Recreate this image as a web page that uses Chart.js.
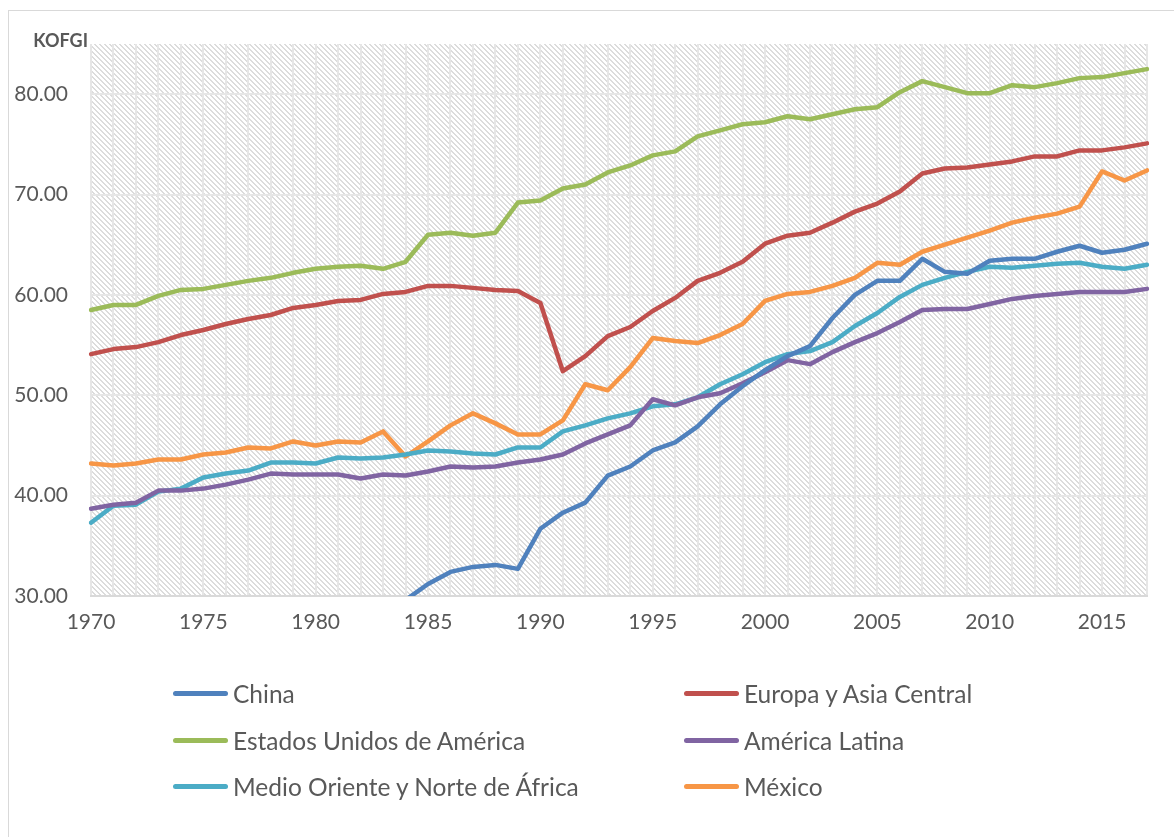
<!DOCTYPE html>
<html>
<head>
<meta charset="utf-8">
<script src="https://cdn.jsdelivr.net/npm/chart.js@4.4.1/dist/chart.umd.min.js"></script>
<style>
  html, body { margin: 0; padding: 0; background: #ffffff; overflow: hidden; }
  #frame { position: absolute; left: 8px; top: 10px; width: 1200px; height: 900px; border: 1.5px solid #d9d9d9; box-sizing: border-box; }
  #wrap { position: absolute; left: 0; top: 0; width: 1174px; height: 837px; }
  #legend { position: absolute; left: 0; top: 0; width: 1174px; height: 837px; pointer-events: none; }
  .li { position: absolute; display: flex; align-items: center; font-family: Lato, "Open Sans", sans-serif; font-size: 24.5px; color: #595959; white-space: nowrap; }
  .sw { width: 55px; height: 5px; border-radius: 3px; margin-right: 5px; }
</style>
</head>
<body>
<div id="frame"></div>
<div id="wrap"><canvas id="c"></canvas></div>
<div id="legend"></div>
<script>
const years = [];
for (let y = 1970; y <= 2017; y++) years.push(String(y));

const seriesNames = ["China", "Europa y Asia Central", "Estados Unidos de América", "América Latina", "Medio Oriente y Norte de África", "México"];
const seriesColors = ["#4F81BD", "#C0504D", "#9BBB59", "#8064A2", "#4BACC6", "#F79646"];

const china = [null, null, null, null, null, null, null, null, null, null, null, null, null, null,
  29.6, 31.2, 32.4, 32.9, 33.1, 32.7, 36.7, 38.3, 39.3, 42.0,
  42.9, 44.5, 45.3, 46.9, 49.1, 50.9, 52.5, 53.9, 54.9, 57.7, 60.0, 61.4,
  61.4, 63.6, 62.3, 62.1, 63.4, 63.6, 63.6, 64.3, 64.9, 64.2, 64.5, 65.1];
const europa = [54.1, 54.6, 54.8, 55.3, 56.0, 56.5, 57.1, 57.6, 58.0, 58.7, 59.0, 59.4,
  59.5, 60.1, 60.3, 60.9, 60.9, 60.7, 60.5, 60.4, 59.2, 52.4, 53.9, 55.9,
  56.8, 58.4, 59.7, 61.4, 62.2, 63.3, 65.1, 65.9, 66.2, 67.2, 68.3, 69.1,
  70.3, 72.1, 72.6, 72.7, 73.0, 73.3, 73.8, 73.8, 74.4, 74.4, 74.7, 75.1];
const usa = [58.5, 59.0, 59.0, 59.9, 60.5, 60.6, 61.0, 61.4, 61.7, 62.2, 62.6, 62.8,
  62.9, 62.6, 63.3, 66.0, 66.2, 65.9, 66.2, 69.2, 69.4, 70.6, 71.0, 72.2,
  72.9, 73.9, 74.3, 75.8, 76.4, 77.0, 77.2, 77.8, 77.5, 78.0, 78.5, 78.7,
  80.2, 81.3, 80.7, 80.1, 80.1, 80.9, 80.7, 81.1, 81.6, 81.7, 82.1, 82.5];
const latina = [38.7, 39.1, 39.3, 40.5, 40.5, 40.7, 41.1, 41.6, 42.2, 42.1, 42.1, 42.1,
  41.7, 42.1, 42.0, 42.4, 42.9, 42.8, 42.9, 43.3, 43.6, 44.1, 45.2, 46.1,
  47.0, 49.6, 49.0, 49.8, 50.2, 51.2, 52.3, 53.5, 53.1, 54.3, 55.3, 56.2,
  57.3, 58.5, 58.6, 58.6, 59.1, 59.6, 59.9, 60.1, 60.3, 60.3, 60.3, 60.6];
const medio = [37.3, 39.0, 39.1, 40.4, 40.7, 41.8, 42.2, 42.5, 43.3, 43.3, 43.2, 43.8,
  43.7, 43.8, 44.1, 44.5, 44.4, 44.2, 44.1, 44.8, 44.8, 46.4, 47.0, 47.7,
  48.2, 48.9, 49.1, 49.8, 51.1, 52.1, 53.3, 54.1, 54.4, 55.3, 56.9, 58.2,
  59.8, 61.0, 61.7, 62.3, 62.8, 62.7, 62.9, 63.1, 63.2, 62.8, 62.6, 63.0];
const mexico = [43.2, 43.0, 43.2, 43.6, 43.6, 44.1, 44.3, 44.8, 44.7, 45.4, 45.0, 45.4,
  45.3, 46.4, 43.9, 45.4, 47.0, 48.2, 47.2, 46.1, 46.1, 47.5, 51.1, 50.5,
  52.8, 55.7, 55.4, 55.2, 56.0, 57.1, 59.4, 60.1, 60.3, 60.9, 61.7, 63.2,
  63.0, 64.3, 65.0, 65.7, 66.4, 67.2, 67.7, 68.1, 68.8, 72.3, 71.4, 72.4];

const seriesValues = [china, europa, usa, latina, medio, mexico];
const yTicks = [30, 40, 50, 60, 70, 80];
const yMin = 30, yMax = 85;
const axisTitle = "KOFGI";

// hatch pattern for plot background
function makePattern(ctx) {
  const n = 5;
  const p = document.createElement('canvas');
  p.width = n; p.height = n;
  const pc = p.getContext('2d');
  pc.fillStyle = '#ffffff';
  pc.fillRect(0, 0, n, n);
  pc.fillStyle = '#dcdcdc';
  for (let i = 0; i < n; i++) { pc.fillRect(i, i, 1, 1); pc.fillRect((i + 1) % n, i, 1, 1); }
  return ctx.createPattern(p, 'repeat');
}

const bgPlugin = {
  id: 'hatchBg',
  beforeDraw(chart) {
    const { ctx, chartArea: a } = chart;
    ctx.save();
    ctx.fillStyle = makePattern(ctx);
    ctx.fillRect(a.left, a.top, a.right - a.left, a.bottom - a.top);
    ctx.restore();
  },
  afterDraw(chart) {
    const { ctx, chartArea: a } = chart;
    ctx.save();
    ctx.font = 'bold 18px Lato, "Open Sans", sans-serif';
    ctx.fillStyle = '#595959';
    ctx.textAlign = 'right';
    ctx.textBaseline = 'alphabetic';
    ctx.fillText(axisTitle, a.left - 3, a.top + 3);
    ctx.restore();
  }
};

const datasets = seriesNames.map((n, i) => ({
  label: n,
  data: seriesValues[i],
  borderColor: seriesColors[i],
  backgroundColor: seriesColors[i],
  borderWidth: 4.5,
  pointRadius: 0,
  tension: 0,
  fill: false,
  spanGaps: false,
  borderJoinStyle: 'round',
  borderCapStyle: 'round'
}));

const chart = new Chart(document.getElementById('c'), {
  type: 'line',
  data: { labels: years, datasets },
  options: {
    responsive: true,
    maintainAspectRatio: false,
    animation: false,
    layout: { padding: { left: 0, top: 44, right: 27, bottom: 201 } },
    plugins: { legend: { display: false }, tooltip: { enabled: false } },
    scales: {
      x: {
        offset: false,
        afterFit(s) { s.height = 40; },
        grid: { color: '#e6e6e6', lineWidth: 2, drawTicks: false },
        border: { color: '#d9d9d9', width: 2 },
        ticks: {
          autoSkip: false, maxRotation: 0, padding: 14,
          color: '#595959',
          font: { family: 'Lato, "Open Sans", sans-serif', size: 21 },
          callback(v, i) { const y = years[i]; return (Number(y) % 5 === 0) ? y : ''; }
        }
      },
      y: {
        min: yMin, max: yMax,
        afterFit(s) { s.width = 91; },
        afterBuildTicks(s) { s.ticks = yTicks.map(v => ({ value: v })); },
        grid: { color: '#e6e6e6', lineWidth: 2, drawTicks: false },
        border: { display: false },
        ticks: {
          padding: 23,
          color: '#595959',
          font: { family: 'Lato, "Open Sans", sans-serif', size: 21 },
          callback(v) { return Number(v).toFixed(2); }
        }
      }
    }
  },
  plugins: [bgPlugin]
});

// HTML legend in two columns
const legendPos = [[173, 693], [684, 693], [173, 740], [684, 740], [173, 786], [684, 786]];
const leg = document.getElementById('legend');
chart.data.datasets.forEach((ds, i) => {
  const d = document.createElement('div');
  d.className = 'li';
  d.style.left = legendPos[i][0] + 'px';
  d.style.top = (legendPos[i][1] - 15) + 'px';
  d.style.height = '30px';
  const sw = document.createElement('span');
  sw.className = 'sw';
  sw.style.background = ds.borderColor;
  const t = document.createElement('span');
  t.textContent = ds.label;
  d.appendChild(sw); d.appendChild(t);
  leg.appendChild(d);
});
</script>
</body>
</html>
